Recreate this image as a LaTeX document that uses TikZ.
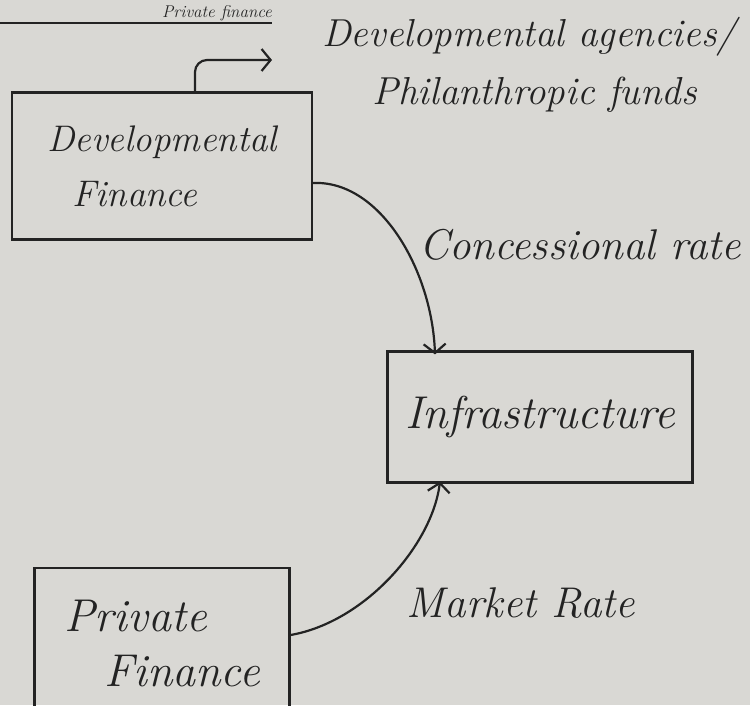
\documentclass[tikz,border=0pt]{standalone}
\usetikzlibrary{arrows.meta}
\definecolor{paper}{RGB}{217,216,212}
\definecolor{ink}{RGB}{35,35,35}
\tikzset{
  box/.style={draw=ink, line width=2.2pt, inner sep=0pt},
  hand/.style={text=ink, font=\fontsize{#1}{#1}\selectfont\itshape},
  hand/.default=40,
  flow/.style={draw=ink, line width=2.2pt, -{Straight Barb[length=9pt,width=22pt,line width=2.2pt]}},
}
\begin{document}
\begin{tikzpicture}[x=1pt,y=-1pt]
  \useasboundingbox (0,0) rectangle (750,705);
  \clip (0,0) rectangle (750,705);
  \fill[paper] (0,0) rectangle (750,705);

  % heading above its rule
  \node[hand=17, anchor=base east, inner sep=0pt] (head) at (272,17) {Private finance};
  \coordinate (ul) at (0,23);
  \draw[ink, line width=2.2pt] (ul) -- (ul -| head.east);

  % boxes
  \node[box, hand=37, minimum width=300, minimum height=147, align=left] (devfin) at (162,166)
    {Developmental\\[18pt]\hspace{25pt}Finance};
  \node[box, hand=46, minimum width=305, minimum height=131] (infra) at (540,417) {Infrastructure};
  \node[box, hand=46, minimum width=255, minimum height=152, align=left] (privfin) at (162,644)
    {Private\\[9pt]\hspace{40pt}Finance};

  % sources
  \node[hand=39, anchor=north west, align=left, inner sep=0pt] (agencies) at (322,17)
    {Developmental agencies/\\[19pt]\hspace{50pt}Philanthropic funds};
  \coordinate (tip) at (272,60);
  \draw[flow, rounded corners=12] ([xshift=33]devfin.north) |- (tip);

  % flows into infrastructure
  \draw[flow] ([yshift=-17]devfin.east) .. controls (380,180) and (432,270) .. ([xshift=-105,yshift=-4]infra.north);
  \node[hand=43] (conc) at (580,245) {Concessional rate};
  \draw[flow] ([yshift=9]privfin.east) .. controls (365,622) and (432,545) .. ([xshift=-100,yshift=2]infra.south);
  \node[hand=43] (market) at (521,603) {Market Rate};
\end{tikzpicture}
\end{document}
